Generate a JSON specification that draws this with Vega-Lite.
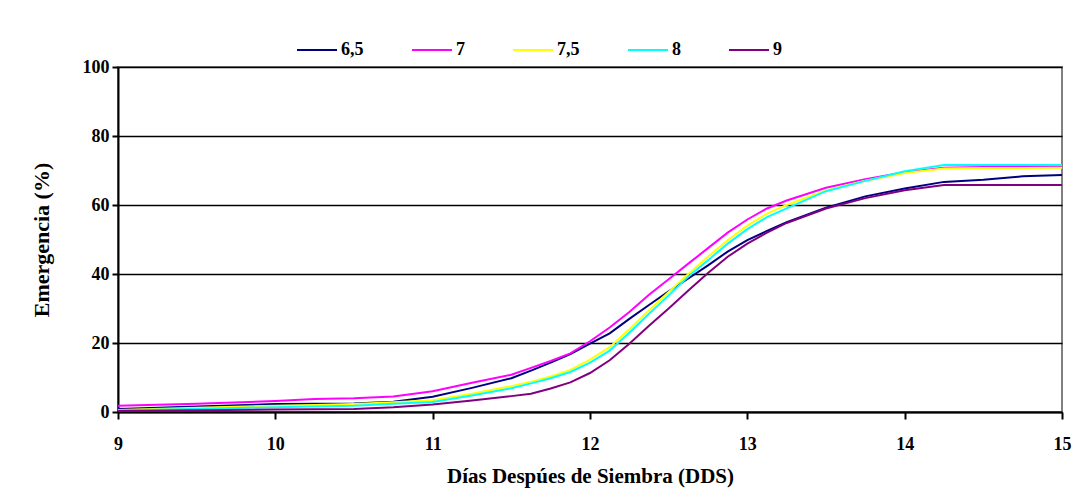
{
  "$schema": "https://vega.github.io/schema/vega-lite/v6.json",
  "autosize": {"type": "none"},
  "padding": {"left": 118, "top": 67, "right": 21, "bottom": 79},
  "width": 944,
  "height": 345,
  "background": "white",
  "config": {
    "view": {"stroke": "#808080", "strokeWidth": 2},
    "font": "Liberation Serif"
  },
  "data": {
    "values": [
      {"d": 9, "s": "6,5", "v": 0.9}, {"d": 9.5, "s": "6,5", "v": 1.6}, {"d": 10, "s": "6,5", "v": 2.3}, {"d": 10.25, "s": "6,5", "v": 2.4}, {"d": 10.5, "s": "6,5", "v": 2.5}, {"d": 10.75, "s": "6,5", "v": 3.0}, {"d": 11, "s": "6,5", "v": 4.4}, {"d": 11.25, "s": "6,5", "v": 7.0}, {"d": 11.5, "s": "6,5", "v": 9.8}, {"d": 11.625, "s": "6,5", "v": 12.0}, {"d": 11.75, "s": "6,5", "v": 14.3}, {"d": 11.875, "s": "6,5", "v": 16.8}, {"d": 12, "s": "6,5", "v": 19.8}, {"d": 12.125, "s": "6,5", "v": 22.8}, {"d": 12.25, "s": "6,5", "v": 27.0}, {"d": 12.375, "s": "6,5", "v": 31.0}, {"d": 12.5, "s": "6,5", "v": 35.0}, {"d": 12.625, "s": "6,5", "v": 38.7}, {"d": 12.75, "s": "6,5", "v": 42.5}, {"d": 12.875, "s": "6,5", "v": 46.5}, {"d": 13, "s": "6,5", "v": 49.8}, {"d": 13.125, "s": "6,5", "v": 52.5}, {"d": 13.25, "s": "6,5", "v": 55.0}, {"d": 13.5, "s": "6,5", "v": 59.2}, {"d": 13.75, "s": "6,5", "v": 62.5}, {"d": 14, "s": "6,5", "v": 64.8}, {"d": 14.25, "s": "6,5", "v": 66.7}, {"d": 14.5, "s": "6,5", "v": 67.3}, {"d": 14.75, "s": "6,5", "v": 68.3}, {"d": 15, "s": "6,5", "v": 68.7},

      {"d": 9, "s": "7", "v": 1.8}, {"d": 9.5, "s": "7", "v": 2.4}, {"d": 10, "s": "7", "v": 3.2}, {"d": 10.25, "s": "7", "v": 3.8}, {"d": 10.5, "s": "7", "v": 4.0}, {"d": 10.75, "s": "7", "v": 4.5}, {"d": 11, "s": "7", "v": 6.0}, {"d": 11.25, "s": "7", "v": 8.5}, {"d": 11.5, "s": "7", "v": 10.8}, {"d": 11.625, "s": "7", "v": 12.8}, {"d": 11.75, "s": "7", "v": 14.8}, {"d": 11.875, "s": "7", "v": 17.0}, {"d": 12, "s": "7", "v": 20.5}, {"d": 12.125, "s": "7", "v": 24.5}, {"d": 12.25, "s": "7", "v": 29.0}, {"d": 12.375, "s": "7", "v": 34.0}, {"d": 12.5, "s": "7", "v": 38.5}, {"d": 12.625, "s": "7", "v": 43.0}, {"d": 12.75, "s": "7", "v": 47.5}, {"d": 12.875, "s": "7", "v": 52.0}, {"d": 13, "s": "7", "v": 55.8}, {"d": 13.125, "s": "7", "v": 59.0}, {"d": 13.25, "s": "7", "v": 61.3}, {"d": 13.5, "s": "7", "v": 65.0}, {"d": 13.75, "s": "7", "v": 67.5}, {"d": 14, "s": "7", "v": 69.5}, {"d": 14.25, "s": "7", "v": 70.8}, {"d": 14.5, "s": "7", "v": 71.0}, {"d": 14.75, "s": "7", "v": 71.2}, {"d": 15, "s": "7", "v": 71.3},

      {"d": 9, "s": "7,5", "v": 0.6}, {"d": 9.5, "s": "7,5", "v": 1.2}, {"d": 10, "s": "7,5", "v": 1.8}, {"d": 10.25, "s": "7,5", "v": 2.0}, {"d": 10.5, "s": "7,5", "v": 2.3}, {"d": 10.75, "s": "7,5", "v": 2.8}, {"d": 11, "s": "7,5", "v": 3.4}, {"d": 11.25, "s": "7,5", "v": 5.3}, {"d": 11.5, "s": "7,5", "v": 7.5}, {"d": 11.625, "s": "7,5", "v": 8.8}, {"d": 11.75, "s": "7,5", "v": 10.3}, {"d": 11.875, "s": "7,5", "v": 12.2}, {"d": 12, "s": "7,5", "v": 15.2}, {"d": 12.125, "s": "7,5", "v": 18.8}, {"d": 12.25, "s": "7,5", "v": 24.0}, {"d": 12.375, "s": "7,5", "v": 29.5}, {"d": 12.5, "s": "7,5", "v": 34.8}, {"d": 12.625, "s": "7,5", "v": 40.0}, {"d": 12.75, "s": "7,5", "v": 45.0}, {"d": 12.875, "s": "7,5", "v": 49.8}, {"d": 13, "s": "7,5", "v": 54.0}, {"d": 13.125, "s": "7,5", "v": 57.5}, {"d": 13.25, "s": "7,5", "v": 60.0}, {"d": 13.5, "s": "7,5", "v": 64.2}, {"d": 13.75, "s": "7,5", "v": 67.0}, {"d": 14, "s": "7,5", "v": 69.3}, {"d": 14.25, "s": "7,5", "v": 70.6}, {"d": 14.5, "s": "7,5", "v": 70.7}, {"d": 14.75, "s": "7,5", "v": 70.7}, {"d": 15, "s": "7,5", "v": 70.8},

      {"d": 9, "s": "8", "v": 0.5}, {"d": 9.5, "s": "8", "v": 0.9}, {"d": 10, "s": "8", "v": 1.4}, {"d": 10.25, "s": "8", "v": 1.6}, {"d": 10.5, "s": "8", "v": 1.8}, {"d": 10.75, "s": "8", "v": 2.4}, {"d": 11, "s": "8", "v": 2.9}, {"d": 11.25, "s": "8", "v": 4.8}, {"d": 11.5, "s": "8", "v": 6.9}, {"d": 11.625, "s": "8", "v": 8.3}, {"d": 11.75, "s": "8", "v": 9.8}, {"d": 11.875, "s": "8", "v": 11.6}, {"d": 12, "s": "8", "v": 14.3}, {"d": 12.125, "s": "8", "v": 17.8}, {"d": 12.25, "s": "8", "v": 23.0}, {"d": 12.375, "s": "8", "v": 28.5}, {"d": 12.5, "s": "8", "v": 33.8}, {"d": 12.625, "s": "8", "v": 39.3}, {"d": 12.75, "s": "8", "v": 44.0}, {"d": 12.875, "s": "8", "v": 48.8}, {"d": 13, "s": "8", "v": 53.0}, {"d": 13.125, "s": "8", "v": 56.5}, {"d": 13.25, "s": "8", "v": 59.0}, {"d": 13.5, "s": "8", "v": 64.0}, {"d": 13.75, "s": "8", "v": 67.0}, {"d": 14, "s": "8", "v": 69.8}, {"d": 14.25, "s": "8", "v": 71.6}, {"d": 14.5, "s": "8", "v": 71.6}, {"d": 14.75, "s": "8", "v": 71.6}, {"d": 15, "s": "8", "v": 71.6},

      {"d": 9, "s": "9", "v": 0.3}, {"d": 9.5, "s": "9", "v": 0.5}, {"d": 10, "s": "9", "v": 0.7}, {"d": 10.25, "s": "9", "v": 0.8}, {"d": 10.5, "s": "9", "v": 0.9}, {"d": 10.75, "s": "9", "v": 1.4}, {"d": 11, "s": "9", "v": 2.2}, {"d": 11.25, "s": "9", "v": 3.3}, {"d": 11.5, "s": "9", "v": 4.6}, {"d": 11.625, "s": "9", "v": 5.3}, {"d": 11.75, "s": "9", "v": 6.8}, {"d": 11.875, "s": "9", "v": 8.6}, {"d": 12, "s": "9", "v": 11.3}, {"d": 12.125, "s": "9", "v": 15.0}, {"d": 12.25, "s": "9", "v": 19.8}, {"d": 12.375, "s": "9", "v": 25.0}, {"d": 12.5, "s": "9", "v": 30.0}, {"d": 12.625, "s": "9", "v": 35.2}, {"d": 12.75, "s": "9", "v": 40.3}, {"d": 12.875, "s": "9", "v": 45.0}, {"d": 13, "s": "9", "v": 48.8}, {"d": 13.125, "s": "9", "v": 52.0}, {"d": 13.25, "s": "9", "v": 54.8}, {"d": 13.5, "s": "9", "v": 59.0}, {"d": 13.75, "s": "9", "v": 62.0}, {"d": 14, "s": "9", "v": 64.3}, {"d": 14.25, "s": "9", "v": 65.8}, {"d": 14.5, "s": "9", "v": 65.8}, {"d": 14.75, "s": "9", "v": 65.8}, {"d": 15, "s": "9", "v": 65.8}
    ]
  },
  "mark": {"type": "line", "strokeWidth": 2, "clip": true},
  "encoding": {
    "x": {
      "field": "d", "type": "quantitative",
      "scale": {"domain": [9, 15], "nice": false, "zero": false},
      "axis": {
        "title": "Días Despúes de Siembra (DDS)",
        "values": [9, 10, 11, 12, 13, 14, 15],
        "grid": false,
        "domainColor": "black", "domainWidth": 2,
        "tickColor": "black", "tickWidth": 2, "tickSize": 7,
        "labelFont": "Liberation Serif, Times New Roman, serif", "labelFontWeight": "bold", "labelFontSize": 18, "labelColor": "black",
        "labelPadding": 16, "labelFlush": false,
        "titleFont": "Liberation Serif, Times New Roman, serif", "titleFontWeight": "bold", "titleFontSize": 21, "titleColor": "black",
        "titlePadding": 12
      }
    },
    "y": {
      "field": "v", "type": "quantitative",
      "scale": {"domain": [0, 100], "nice": false},
      "axis": {
        "title": "Emergencia (%)",
        "values": [0, 20, 40, 60, 80, 100],
        "gridColor": "black", "gridWidth": 1.5, "gridOpacity": 1,
        "domainColor": "black", "domainWidth": 2,
        "tickColor": "black", "tickWidth": 2, "tickSize": 6,
        "labelFont": "Liberation Serif, Times New Roman, serif", "labelFontWeight": "bold", "labelFontSize": 18, "labelColor": "black",
        "labelPadding": 3,
        "titleFont": "Liberation Serif, Times New Roman, serif", "titleFontWeight": "bold", "titleFontSize": 22, "titleColor": "black",
        "titlePadding": 29
      }
    },
    "color": {
      "field": "s", "type": "nominal",
      "scale": {
        "domain": ["6,5", "7", "7,5", "8", "9"],
        "range": ["#000080", "#FF00FF", "#FFFF00", "#00FFFF", "#800080"]
      },
      "legend": {
        "title": null,
        "orient": "none",
        "direction": "horizontal",
        "legendX": 178,
        "legendY": -38,
        "padding": 0,
        "symbolType": "stroke",
        "symbolSize": 1600,
        "symbolStrokeWidth": 2,
        "labelOffset": 3,
        "columnPadding": 44,
        "labelFont": "Liberation Serif, Times New Roman, serif", "labelFontWeight": "bold", "labelFontSize": 18, "labelColor": "black"
      }
    }
  }
}
